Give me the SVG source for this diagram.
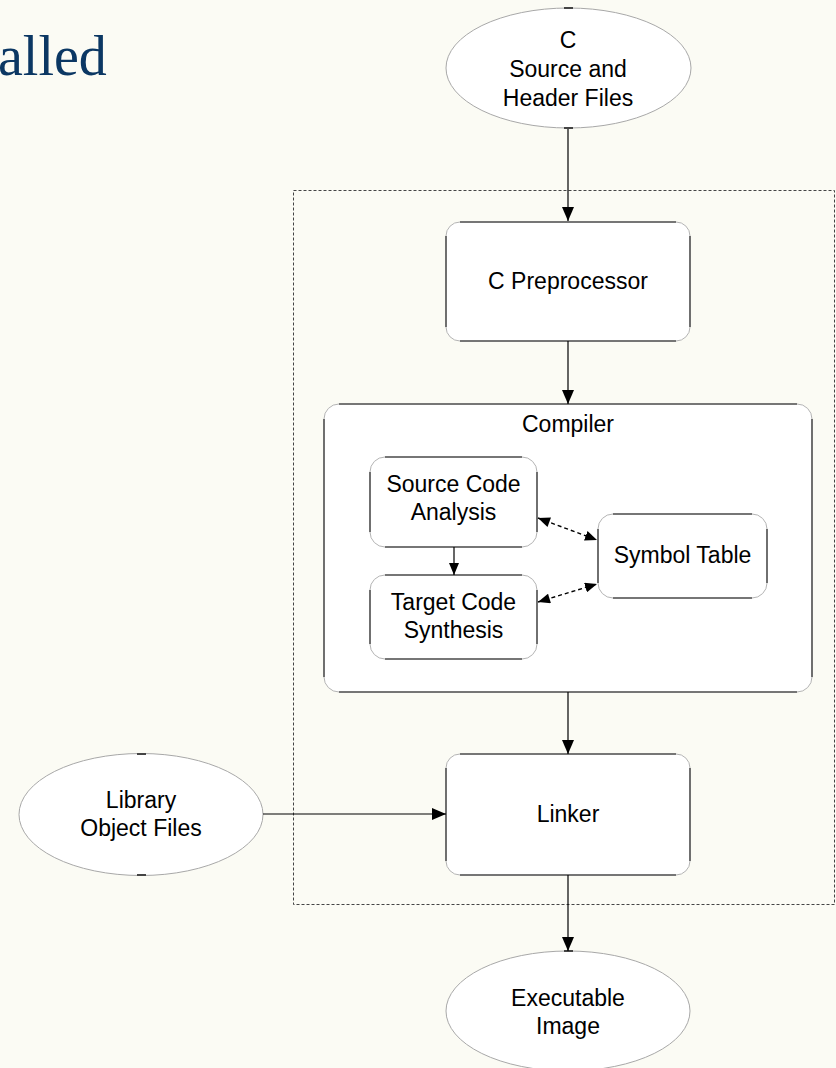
<svg xmlns="http://www.w3.org/2000/svg" width="836" height="1068" viewBox="0 0 836 1068">
  <defs>
    <marker id="arrow" markerUnits="userSpaceOnUse" markerWidth="15" markerHeight="12" refX="14" refY="6" orient="auto">
      <path d="M0,0 L14,6 L0,12 z" fill="#000"/>
    </marker>
    <marker id="arrowSmall" markerUnits="userSpaceOnUse" markerWidth="13" markerHeight="10" refX="12" refY="5" orient="auto">
      <path d="M0,0 L12,5 L0,10 z" fill="#000"/>
    </marker>
    <marker id="dashEnd" markerUnits="userSpaceOnUse" markerWidth="13" markerHeight="10" refX="12" refY="5" orient="auto">
      <path d="M0,0 L12,5 L0,10 z" fill="#000"/>
    </marker>
    <marker id="dashStart" markerUnits="userSpaceOnUse" markerWidth="13" markerHeight="10" refX="0" refY="5" orient="auto">
      <path d="M12,0 L0,5 L12,10 z" fill="#000"/>
    </marker>
  </defs>
  <style>
    text { font-family: "Liberation Sans", Arial, sans-serif; font-size: 23px; fill: #000; text-anchor: middle; }
    .title { font-family: "Liberation Serif", "Times New Roman", serif; font-size: 56px; fill: #0b3763; text-anchor: start; }
    .ell { fill: #fff; stroke: #a8a8a8; stroke-width: 1; }
    .box { fill: #fff; stroke: #b4b4b4; stroke-width: 1; }
    .side { fill: none; stroke: #555; stroke-width: 1.6; }
    .tick { stroke: #444; stroke-width: 2; }
    .conn { fill: none; stroke: #000; stroke-width: 1.2; }
    .dash { fill: none; stroke: #000; stroke-width: 1.4; stroke-dasharray: 4 3; }
    .frame { fill: none; stroke: #444; stroke-width: 1; stroke-dasharray: 3 2; }
  </style>

  <rect x="0" y="0" width="836" height="1068" fill="#fbfbf4"/>
  <text class="title" x="-2" y="75">alled</text>

  <!-- toolchain boundary -->
  <rect class="frame" x="293.5" y="190.5" width="541" height="714"/>

  <g id="source-files">
    <ellipse class="ell" cx="568.5" cy="68" rx="122.5" ry="60"/>
    <line class="tick" x1="564" y1="8" x2="573" y2="8"/>
    <line class="tick" x1="564" y1="128" x2="573" y2="128"/>
    <text x="568" y="48">C</text>
    <text x="568" y="77">Source and</text>
    <text x="568" y="106">Header Files</text>
  </g>

  <g id="preprocessor">
    <rect class="box" x="446" y="222" width="244" height="119" rx="14"/>
    <path class="side" d="M460,222 H676 M690,236 V327 M676,341 H460 M446,327 V236"/>
    <text x="568" y="289">C Preprocessor</text>
  </g>

  <g id="compiler">
    <rect class="box" x="324" y="404" width="488" height="288" rx="15"/>
    <path class="side" d="M339,404 H797 M812,419 V677 M797,692 H339 M324,677 V419"/>
    <text x="568" y="432">Compiler</text>
  </g>

  <g id="source-analysis">
    <rect class="box" x="370" y="457" width="167" height="90" rx="15"/>
    <path class="side" d="M385,457 H522 M537,472 V532 M522,547 H385 M370,532 V472"/>
    <text x="453.5" y="492">Source Code</text>
    <text x="453.5" y="520">Analysis</text>
  </g>

  <g id="target-synthesis">
    <rect class="box" x="370" y="575" width="167" height="84" rx="15"/>
    <path class="side" d="M385,575 H522 M537,590 V644 M522,659 H385 M370,644 V590"/>
    <text x="453.5" y="610">Target Code</text>
    <text x="453.5" y="638">Synthesis</text>
  </g>

  <g id="symbol-table">
    <rect class="box" x="598" y="514" width="169" height="84" rx="15"/>
    <path class="side" d="M613,514 H752 M767,529 V583 M752,598 H613 M598,583 V529"/>
    <text x="682.5" y="563">Symbol Table</text>
  </g>

  <g id="linker">
    <rect class="box" x="446" y="754" width="244" height="121" rx="14"/>
    <path class="side" d="M460,754 H676 M690,768 V861 M676,875 H460 M446,861 V768"/>
    <text x="568" y="822">Linker</text>
  </g>

  <g id="library-files">
    <ellipse class="ell" cx="141" cy="814.5" rx="122" ry="61"/>
    <line class="tick" x1="137" y1="754" x2="146" y2="754"/>
    <line class="tick" x1="137" y1="875" x2="146" y2="875"/>
    <text x="141" y="808">Library</text>
    <text x="141" y="836">Object Files</text>
  </g>

  <g id="executable">
    <ellipse class="ell" cx="568" cy="1011" rx="122" ry="60"/>
    <line class="tick" x1="564" y1="951" x2="573" y2="951"/>
    <text x="568" y="1006">Executable</text>
    <text x="568" y="1034">Image</text>
  </g>

  <g id="connectors">
    <line class="conn" x1="568" y1="129" x2="568" y2="221" marker-end="url(#arrow)"/>
    <line class="conn" x1="568" y1="341" x2="568" y2="404" marker-end="url(#arrow)"/>
    <line class="conn" x1="454" y1="547" x2="454" y2="575" marker-end="url(#arrowSmall)"/>
    <line class="dash" x1="538" y1="518" x2="597" y2="540" marker-start="url(#dashStart)" marker-end="url(#dashEnd)"/>
    <line class="dash" x1="538" y1="602" x2="597" y2="584" marker-start="url(#dashStart)" marker-end="url(#dashEnd)"/>
    <line class="conn" x1="568" y1="692" x2="568" y2="754" marker-end="url(#arrow)"/>
    <line class="conn" x1="263" y1="814" x2="446" y2="814" marker-end="url(#arrow)"/>
    <line class="conn" x1="568" y1="875" x2="568" y2="951" marker-end="url(#arrow)"/>
  </g>
</svg>
